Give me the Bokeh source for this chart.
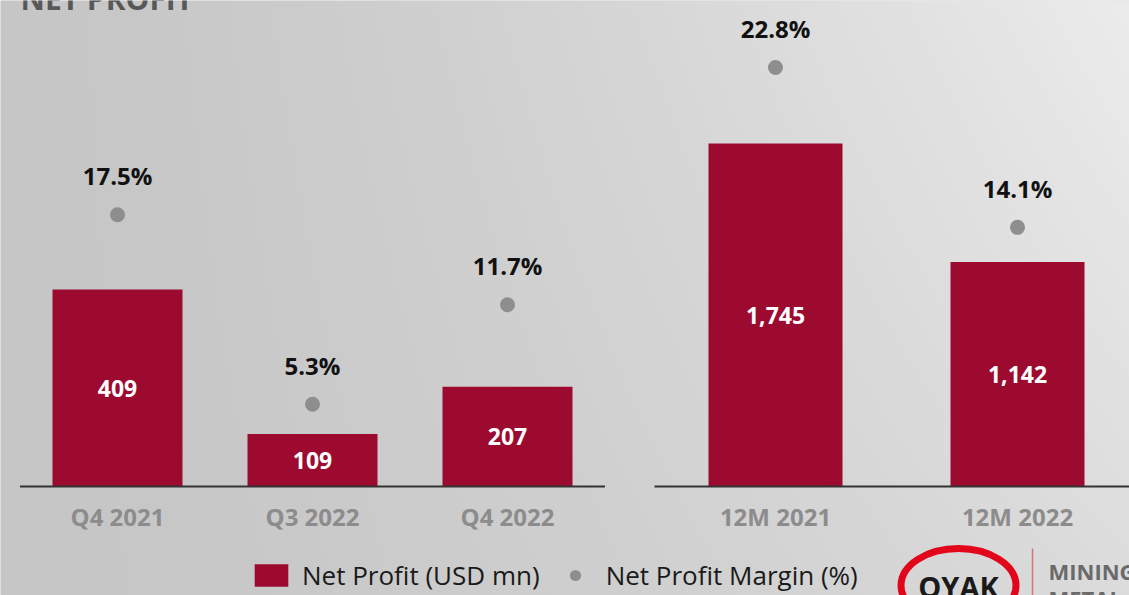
import numpy as np
from bokeh.plotting import figure
from bokeh.models import Range1d, ColumnDataSource, Legend, LegendItem
from bokeh.core.properties import value
from bokeh.embed import file_html
from bokeh.resources import INLINE

# ---------------- data ----------------
title = "NET PROFIT"
q_labels = ["Q4 2021", "Q3 2022", "Q4 2022"]
q_profit = [409, 109, 207]          # USD mn
q_margin = [17.5, 5.3, 11.7]        # %
y_labels = ["12M 2021", "12M 2022"]
y_profit = [1745, 1142]             # USD mn
y_margin = [22.8, 14.1]             # %
legend_labels = ["Net Profit (USD mn)", "Net Profit Margin (%)"]
logo_text = "OYAK"
logo_sub = ["MINING", "METAL"]

# ---------------- layout (window pixel space) ----------------
W, H = 1129, 595
LEFT, TOP = 0, 0
RIGHT, BOTTOM = LEFT + W, TOP + H
BASE = 486          # baseline row in window pixels

FONT = "Open Sans"
BAR = "#9c0b2f"
DOT = "#8e8e8e"


def xr(center0, step):
    return Range1d(start=(LEFT - center0) / step, end=(RIGHT - center0) / step)


def yr(px_per_unit):
    return Range1d(start=(BASE - BOTTOM) / px_per_unit, end=(BASE - TOP) / px_per_unit)


def Y(row):
    # window pixel row -> main y coordinate
    return (TOP + BOTTOM) - row


p = figure(width=W, height=H, x_range=Range1d(LEFT, RIGHT), y_range=Range1d(TOP, BOTTOM),
           output_backend="svg", toolbar_location=None, min_border=0,
           x_axis_type=None, y_axis_type=None, outline_line_color=None,
           background_fill_color="#d2d2d2", border_fill_color="#d2d2d2")
p.grid.visible = False

p.extra_x_ranges = {"lx": xr(117, 195), "rx": xr(775, 242)}
p.extra_y_ranges = {"lv": yr(197 / 409), "rv": yr(343 / 1745),
                    "lp": yr(15.53), "rp": yr(18.38)}

# ---------------- background (brushed metal gradient) ----------------
gx = np.linspace(0, 1, W)[None, :]
gy = np.linspace(0, 1, H)[:, None]
g = 198 + (gx ** 1.4) * (22 + 16 * gy)
g = np.clip(g, 0, 255).astype(np.uint8)
img = np.empty((H, W), dtype=np.uint32)
v = img.view(dtype=np.uint8).reshape((H, W, 4))
v[..., 0] = g
v[..., 1] = g
v[..., 2] = g
v[..., 3] = 255
p.image_rgba(image=[img], x=LEFT, y=TOP, dw=W, dh=H)


def panel(labels, profit, margin, xname, vname, pname, bar_w):
    idx = list(range(len(labels)))
    src = ColumnDataSource(dict(
        x=idx, cat=labels, profit=profit, half=[v_ / 2 for v_ in profit],
        vtxt=[f"{v_:,}" for v_ in profit],
        margin=margin, mtxt=[f"{m:.1f}%" for m in margin],
        zero=[0] * len(labels)))
    bars = p.vbar(x="x", top="profit", bottom=0, width=bar_w, source=src,
                  fill_color=BAR, line_color=None,
                  x_range_name=xname, y_range_name=vname)
    p.segment(x0=[-0.5], x1=[len(labels) - 0.5], y0=[0], y1=[0],
              line_color="#333333", line_width=2.2,
              x_range_name=xname, y_range_name=vname)
    dots = p.scatter(x="x", y="margin", size=15, source=src,
                     fill_color=DOT, line_color=None,
                     x_range_name=xname, y_range_name=pname)
    p.text(x="x", y="margin", text="mtxt", source=src, y_offset=-39,
           text_font=value(FONT), text_font_style="bold", text_font_size="24px",
           text_color="#111111", text_align="center", text_baseline="middle",
           x_range_name=xname, y_range_name=pname)
    p.text(x="x", y="half", text="vtxt", source=src,
           text_font=value(FONT), text_font_style="bold", text_font_size="23px",
           text_color="white", text_align="center", text_baseline="middle",
           x_range_name=xname, y_range_name=vname)
    p.text(x="x", y="zero", text="cat", source=src, y_offset=30,
           text_font=value(FONT), text_font_style="bold", text_font_size="24px",
           text_color="#8c8c8c", text_align="center", text_baseline="middle",
           x_range_name=xname, y_range_name=vname)
    return bars, dots


bars_l, dots_l = panel(q_labels, q_profit, q_margin, "lx", "lv", "lp", 130 / 195)
bars_r, dots_r = panel(y_labels, y_profit, y_margin, "rx", "rv", "rp", 134 / 242)

# ---------------- title (mostly above the visible area, as in the source) ----------------
p.text(x=[20], y=[Y(-2)], text=[title], text_font=value(FONT), text_font_style="bold",
       text_font_size="30px", text_color="#585858", text_align="left",
       text_baseline="middle")

# ---------------- legend ----------------
legend = Legend(items=[LegendItem(label=legend_labels[0], renderers=[bars_l]),
                       LegendItem(label=legend_labels[1], renderers=[dots_l])],
                location=(250, 2), orientation="horizontal",
                glyph_width=42, glyph_height=28, label_standoff=10, spacing=14,
                padding=0, margin=0, background_fill_alpha=0, border_line_alpha=0,
                label_text_font=FONT, label_text_font_size="26px",
                label_text_color="#1a1a1a", label_height=28)
p.add_layout(legend)

# ---------------- logo ----------------
p.ellipse(x=[958], y=[Y(585)], width=115, height=74, fill_alpha=0,
          line_color="#e2061a", line_width=7)
p.text(x=[958], y=[Y(586)], text=[logo_text], text_font=value(FONT), text_font_style="bold",
       text_font_size="29px", text_color="#1a1a1a", text_align="center",
       text_baseline="middle")
p.segment(x0=[1032], x1=[1032], y0=[Y(548)], y1=[Y(600)],
          line_color="#d9707a", line_width=1.5)
p.text(x=[1048, 1048], y=[Y(570), Y(597)], text=logo_sub, text_font=value(FONT),
       text_font_style="bold", text_font_size="22px", text_color="#6a6a6a",
       text_align="left", text_baseline="middle")

open("out.html", "w").write(file_html(p, INLINE))
